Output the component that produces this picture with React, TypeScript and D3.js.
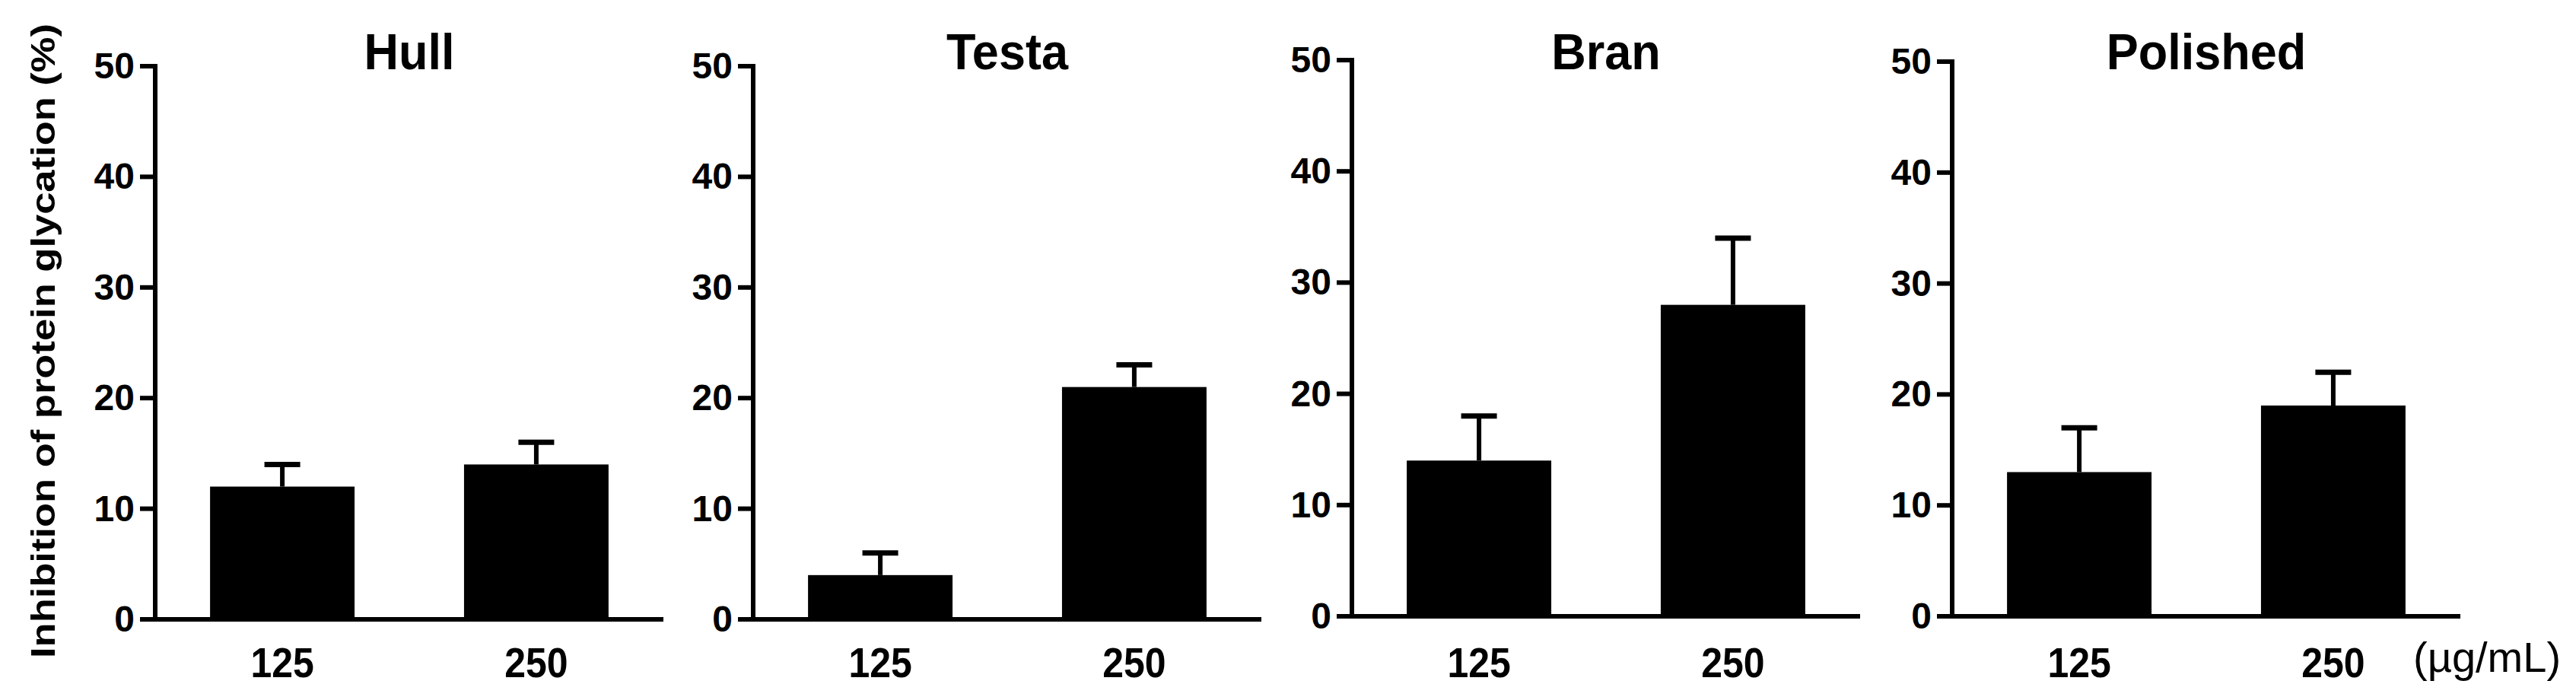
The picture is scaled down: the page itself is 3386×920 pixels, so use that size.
import React from 'react';
import * as d3 from 'd3';

// data
const panels = ['Hull', 'Testa', 'Bran', 'Polished'];
const doses = ['125', '250'];
const means = [
  [12, 14],
  [4, 21],
  [14, 28],
  [13, 19],
];
const errors = [
  [2, 2],
  [2, 2],
  [4, 6],
  [4, 3],
];
const yTicks = [0, 10, 20, 30, 40, 50];
const yLabel = 'Inhibition of protein glycation (%)';
const unitLabel = '(µg/mL)';

const W = 3386;
const H = 920;
const panelX = [204, 990, 1777, 2566];
const panelW = 668;
const panelTop = [87, 87, 79, 81];
const panelZero = [814, 814, 810, 810];
const font = '"Liberation Sans", Arial, Helvetica, sans-serif';
const stroke = 6;

function Panel({ i }: { i: number }) {
  const x0 = panelX[i];
  const x = d3
    .scaleBand()
    .domain(doses)
    .range([x0, x0 + panelW])
    .paddingInner(0.431)
    .paddingOuter(0.216);
  const y = d3.scaleLinear().domain([0, 50]).range([panelZero[i], panelTop[i]]);

  return (
    <g>
      <text
        transform={`translate(${x0 + panelW / 2}, 91) scale(1, 1.05)`}
        textAnchor="middle"
        fontFamily={font}
        fontWeight="bold"
        fontSize={63}
      >
        {panels[i]}
      </text>
      {doses.map((d, j) => {
        const cx = (x(d) as number) + x.bandwidth() / 2;
        const top = y(means[i][j]);
        const errTop = y(means[i][j] + errors[i][j]);
        return (
          <g key={d}>
            <rect x={x(d)} y={top} width={x.bandwidth()} height={y(0) - top} fill="#000" />
            <line x1={cx} x2={cx} y1={top} y2={errTop} stroke="#000" strokeWidth={stroke} />
            <line x1={cx - 23.5} x2={cx + 23.5} y1={errTop} y2={errTop} stroke="#000" strokeWidth={7} />
            <text
              transform={`translate(${cx}, 890) scale(1, 1.12)`}
              textAnchor="middle"
              fontFamily={font}
              fontWeight="bold"
              fontSize={50}
            >
              {d}
            </text>
          </g>
        );
      })}
      {/* y axis */}
      <line x1={x0} x2={x0} y1={y(50) - stroke / 2} y2={y(0)} stroke="#000" strokeWidth={stroke} />
      {yTicks.map(t => (
        <g key={t}>
          <line x1={x0 - 20} x2={x0} y1={y(t)} y2={y(t)} stroke="#000" strokeWidth={stroke} />
          <text
            x={x0 - 27}
            y={y(t) + 16}
            textAnchor="end"
            fontFamily={font}
            fontWeight="bold"
            fontSize={48}
          >
            {t}
          </text>
        </g>
      ))}
      {/* x axis */}
      <line x1={x0 - 3} x2={x0 + panelW} y1={y(0)} y2={y(0)} stroke="#000" strokeWidth={stroke} />
    </g>
  );
}

export default function App() {
  return (
    <svg
      width={W}
      height={H}
      style={{ position: 'absolute', left: 0, top: 0, background: '#fff' }}
    >
      <rect width={W} height={H} fill="#fff" />
      <text
        transform="translate(72, 448) rotate(-90)"
        textAnchor="middle"
        fontFamily={font}
        fontWeight="bold"
        fontSize={44}
        textLength={834}
        lengthAdjust="spacingAndGlyphs"
      >
        {yLabel}
      </text>
      {panels.map((p, i) => (
        <Panel key={p} i={i} />
      ))}
      <text x={3172} y={883} fontFamily={font} fontSize={56}>
        {unitLabel}
      </text>
    </svg>
  );
}
